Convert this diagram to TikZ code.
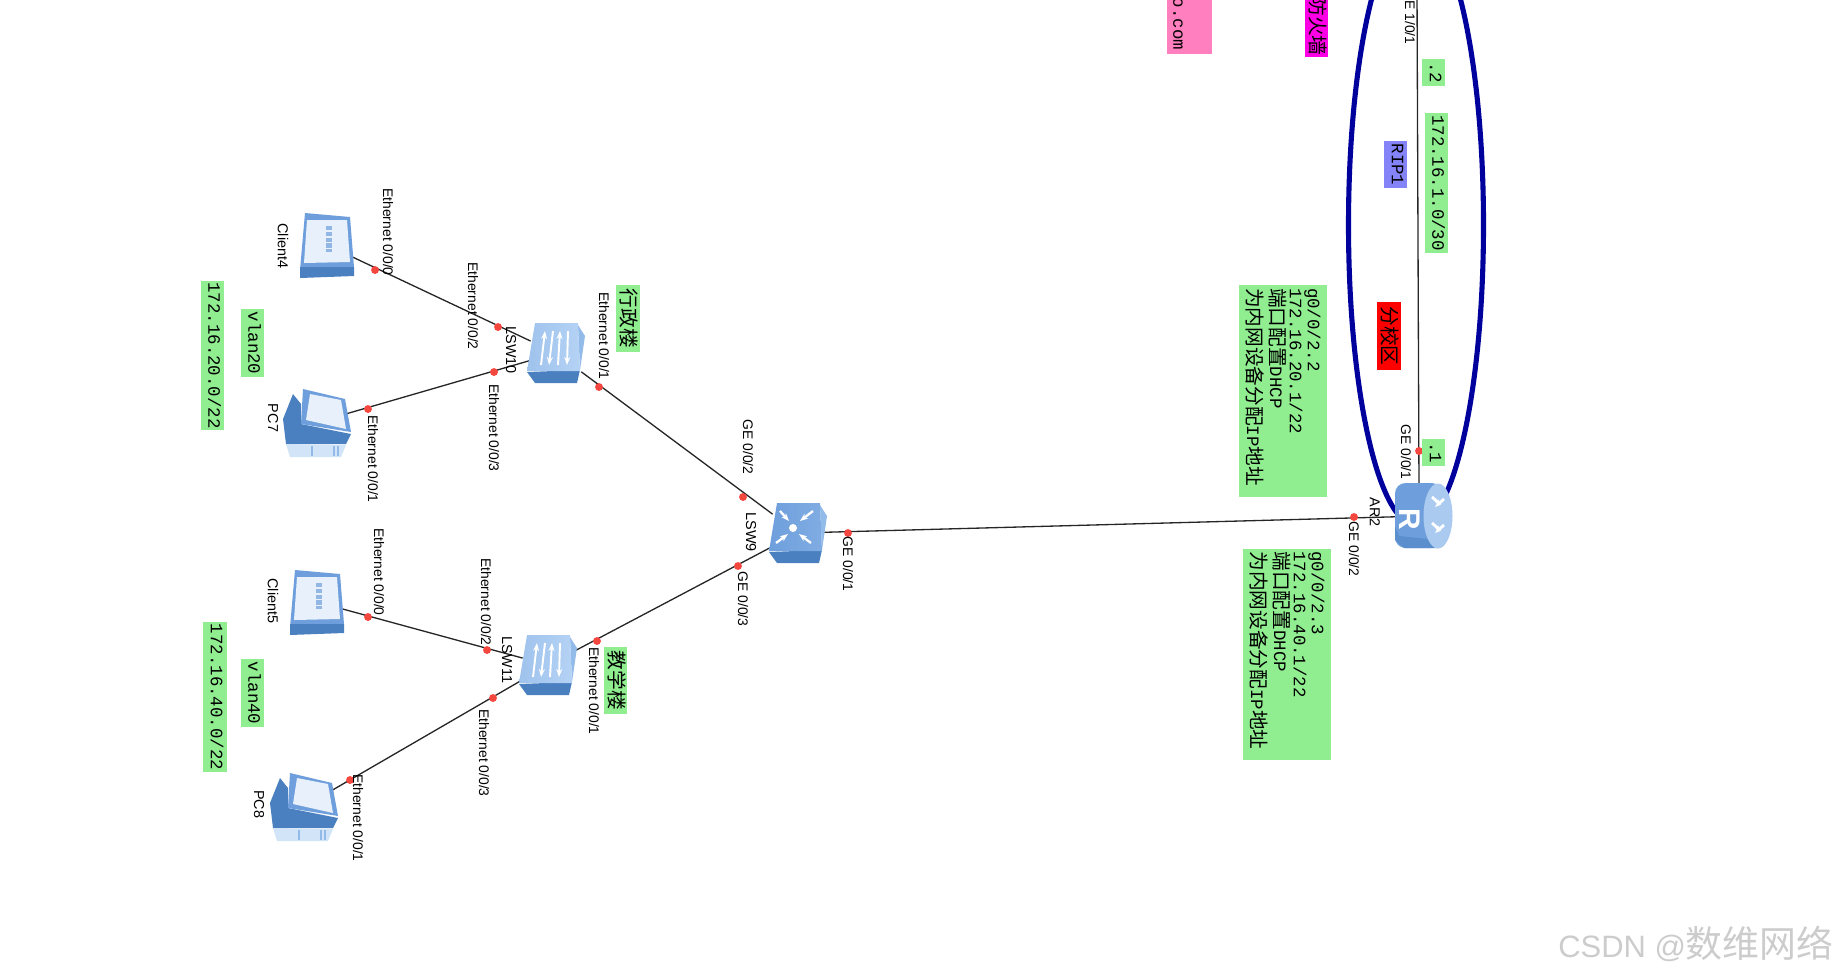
\documentclass[tikz,border=0pt]{standalone}
\usepackage{fontspec}
\setmainfont{Liberation Sans}
\newfontfamily\monofont{Liberation Mono}
\newfontfamily\cjkfont{Noto Sans CJK SC}
\usetikzlibrary{arrows.meta}
\definecolor{hblue}{HTML}{6E9FDC}
\definecolor{hdark}{HTML}{4A80C0}
\definecolor{hpale}{HTML}{B4D2F4}
\definecolor{hside}{HTML}{93BBEA}
\definecolor{hscreen}{HTML}{E8F1FB}
\definecolor{tagok}{HTML}{90EE90}
\definecolor{tagrip}{HTML}{8484F8}
\definecolor{tagpink}{HTML}{FF7FBF}
\definecolor{tagfw}{HTML}{FF00E6}
\definecolor{ringblue}{HTML}{00009C}
\definecolor{portred}{HTML}{F4473F}
\newcommand{\cjkbig}{\cjkfont\fontsize{11.2}{11.3}\selectfont}
\tikzset{
  devbox/.style={minimum width=1cm, minimum height=1cm, inner sep=0pt},
  link/.style={draw=black!85, line width=0.75pt},
  pdot/.style={circle, fill=portred, draw=none, minimum size=4.5pt, inner sep=0pt},
  portlab/.style={rotate=-90, inner sep=0pt, font=\fontsize{7.9}{9}\selectfont},
  devlab/.style={rotate=-90, inner sep=0pt, font=\fontsize{8.2}{9}\selectfont},
  tag/.style={rotate=-90, fill=#1, inner sep=0pt, text depth=2.5pt,
    font=\monofont\fontsize{9.9}{11.3}\selectfont},
  tag/.default=tagok,
  cjktag/.style={tag=#1, font=\cjkbig},
  cjktag/.default=tagok,
  notebox/.style={tag, text depth=, align=left, text width=4.12cm, inner xsep=0.06cm,
    minimum width=4.24cm, minimum height=1.76cm},
  switchbody/.pic={
    \fill[hdark] (-29,19) -- (24,17) -- (21,30) -- (-21,30) -- cycle;
    \fill[hside] (22,-28) -- (29,-17) -- (24,17) -- cycle;
  },
  l2switch/.pic={
    \pic {switchbody};
    \shade[left color=hpale!70!hblue, right color=hpale] (-29,18) -- (-21,-30) -- (22,-30) -- (24,18) -- cycle;
    \draw[white, line width=1.1pt, -{Stealth[length=1.6mm]}] (-15,12) -- (-11,-22);
    \draw[white, line width=1.1pt, {Stealth[length=1.6mm]}-] (-7,12) -- (-3,-22);
    \draw[white, line width=1.1pt, -{Stealth[length=1.6mm]}] (2,12) -- (4,-22);
    \draw[white, line width=1.1pt, {Stealth[length=1.6mm]}-] (11,12) -- (12,-22);
  },
  l3switch/.pic={
    \pic {switchbody};
    \shade[left color=hblue, right color=hblue!75!hpale] (-29,18) -- (-21,-30) -- (22,-30) -- (24,18) -- cycle;
    \fill[white] (-5,-5) circle (4);
    \draw[white, line width=1.3pt, -{Stealth[length=1.6mm]}] (-18,-22) -- (-9,-12);
    \draw[white, line width=1.3pt, -{Stealth[length=1.6mm]}] (15,-22) -- (2,-12);
    \draw[white, line width=1.3pt, -{Stealth[length=1.6mm]}] (-22,10) -- (-10,1);
    \draw[white, line width=1.3pt, -{Stealth[length=1.6mm]}] (13,10) -- (1,1);
  },
  clienticon/.pic={
    \fill[hblue] (-22,-32) -- (23,-28) -- (27,22) -- (-27,25) -- cycle;
    \fill[hdark] (-27,22) -- (27,22) -- (27,31) -- (-27,33) -- cycle;
    \fill[hscreen] (-20,-25) -- (20,-25) -- (23,17) -- (-23,18) -- cycle;
    \draw[hblue!75, line width=3.5pt, dash pattern=on 2.5pt off 0.8pt] (2,-19) -- (2,7);
  },
  pcicon/.pic={
    \fill[hdark] (-35,-3) -- (-25,-28) -- (-17,-18) -- (-17,2) -- (33,12) -- (28,22) -- (-32,22) -- cycle;
    \fill[hpale!60!white] (-32,22) -- (28,23) -- (23,35) -- (-28,35) -- cycle;
    \fill[hblue] (-15,-33) -- (27,-23) -- (33,10) -- (-17,2) -- cycle;
    \fill[hscreen] (-8,-28) -- (23,-22) -- (28,7) -- (-12,-2) -- cycle;
    \draw[hside, line width=0.7pt] (-6,24) -- (-6,34) (16,24) -- (16,34) (20,24) -- (20,34);
  },
  routericon/.pic={
    \fill[hblue, rounded corners=6pt] (18,-33) -- (-29,-33) -- (-29,32) -- (18,32) -- cycle;
    \fill[hdark!55!hblue] (-25,20) -- (-29,10) -- (-29,24) -- (-20,32) -- (14,32) -- (14,24) -- cycle;
    \fill[hpale!85!hblue] (14,0) ellipse [x radius=14.5, y radius=32.5];
    \node[rotate=-90, text=white, inner sep=0pt, font=\fontsize{17}{17}\selectfont\bfseries] (rletter) at (-14,3) {R};
    \draw[white, line width=1.6pt, -{Stealth[length=1.2mm]}] (8,-19) -- (17,-11);
    \draw[white, line width=1.6pt, -{Stealth[length=1.2mm]}] (20,-17) -- (11,-9);
    \draw[white, line width=1.6pt, -{Stealth[length=1.2mm]}] (8,7) -- (17,15);
    \draw[white, line width=1.6pt, -{Stealth[length=1.2mm]}] (20,9) -- (11,17);
  }
}

\begin{document}
\begin{tikzpicture}[x=0.02cm,y=-0.02cm]
  \clip (0,0) rectangle (1837,975);

  % devices
  \node[devbox] (client4) at (327,245) {};
  \node[devbox] (pc7) at (318,422) {};
  \node[devbox] (lsw10) at (556,353) {};
  \node[devbox] (client5) at (317,602) {};
  \node[devbox] (pc8) at (305,806) {};
  \node[devbox] (lsw11) at (548,665) {};
  \node[devbox] (lsw9) at (798,533) {};
  \node[devbox] (ar2) at (1424,516) {};
  \coordinate (ar2up) at (1419,490);
  \coordinate (linkup) at (1417,-10);

  % links
  \draw[ringblue, line width=2.9pt] (1416,225) ellipse [x radius=67.5, y radius=300];
  \draw[link] (client4) -- (lsw10);
  \draw[link] (pc7) -- (lsw10);
  \draw[link] (client5) -- (lsw11);
  \draw[link] (pc8) -- (lsw11);
  \draw[link] (lsw10) -- (lsw9);
  \draw[link] (lsw11) -- (lsw9);
  \draw[link] (lsw9) -- (ar2);
  \draw[link] (ar2up) -- (linkup);

  \pic at (client4) {clienticon};
  \pic at (client5) {clienticon};
  \pic at (pc7) {pcicon};
  \pic at (pc8) {pcicon};
  \pic at (lsw10) {l2switch};
  \pic at (lsw11) {l2switch};
  \pic at (lsw9) {l3switch};
  \pic at (ar2) {routericon};

  % port dots
  \node[pdot] (d1) at (375,270) {};
  \node[pdot] (d2) at (498,327) {};
  \node[pdot] (d3) at (368,409) {};
  \node[pdot] (d4) at (494,372) {};
  \node[pdot] (d5) at (599,387) {};
  \node[pdot] (d6) at (743,497) {};
  \node[pdot] (d7) at (368,617) {};
  \node[pdot] (d8) at (487,650) {};
  \node[pdot] (d9) at (350,780) {};
  \node[pdot] (d10) at (493,698) {};
  \node[pdot] (d11) at (597,641) {};
  \node[pdot] (d12) at (738,566) {};
  \node[pdot] (d13) at (848,533) {};
  \node[pdot] (d14) at (1354,517) {};
  \node[pdot] (d15) at (1419,451) {};

  % port labels
  \node[portlab] (p1) at (388,232) {Ethernet 0/0/0};
  \node[portlab] (p2) at (473,306) {Ethernet 0/0/2};
  \node[portlab] (p3) at (373,459) {Ethernet 0/0/1};
  \node[portlab] (p4) at (494,428) {Ethernet 0/0/3};
  \node[portlab] (p5) at (604,336) {Ethernet 0/0/1};
  \node[portlab] (p6) at (379,572) {Ethernet 0/0/0};
  \node[portlab] (p7) at (486,602) {Ethernet 0/0/2};
  \node[portlab] (p8) at (358,818) {Ethernet 0/0/1};
  \node[portlab] (p9) at (484,753) {Ethernet 0/0/3};
  \node[portlab] (p10) at (594,691) {Ethernet 0/0/1};
  \node[portlab] (p11) at (748,447) {GE 0/0/2};
  \node[portlab] (p12) at (743,599) {GE 0/0/3};
  \node[portlab] (p13) at (848,564) {GE 0/0/1};
  \node[portlab] (p14) at (1354,549) {GE 0/0/2};
  \node[portlab] (p15) at (1406,452) {GE 0/0/1};
  \node[portlab] (p16) at (1410,17) {GE 1/0/1};

  % device labels
  \node[devlab] (l1) at (283,246) {Client4};
  \node[devlab] (l2) at (273,418) {PC7};
  \node[devlab] (l3) at (511,350) {LSW10};
  \node[devlab] (l4) at (273,601) {Client5};
  \node[devlab] (l5) at (259,804) {PC8};
  \node[devlab] (l6) at (507,660) {LSW11};
  \node[devlab] (l7) at (751,532) {LSW9};
  \node[devlab] (l8) at (1375,512) {AR2};

  % tags
  \node[cjktag, minimum width=1.34cm, minimum height=0.48cm] (t1) at (628,318.5) {行政楼};
  \node[cjktag, minimum width=1.34cm, minimum height=0.46cm] (t2) at (615.5,680.5) {教学楼};
  \node[tag, minimum width=2.98cm, minimum height=0.46cm] (t3) at (212.5,355.5) {172.16.20.0/22};
  \node[tag, minimum width=1.36cm, minimum height=0.46cm] (t4) at (252.5,343) {vlan20};
  \node[tag, minimum width=3cm, minimum height=0.48cm] (t5) at (215,697) {172.16.40.0/22};
  \node[tag, minimum width=1.36cm, minimum height=0.46cm] (t6) at (252.5,693) {vlan40};
  \node[tag, minimum width=0.54cm, minimum height=0.46cm] (t7) at (1433.5,72.5) {.2};
  \node[tag, minimum width=0.54cm, minimum height=0.46cm] (t8) at (1433.5,452.5) {.1};
  \node[tag, minimum width=2.8cm, minimum height=0.46cm] (t9) at (1436.5,183) {172.16.1.0/30};
  \node[tag=tagrip, minimum width=0.94cm, minimum height=0.46cm] (t10) at (1395.5,164.5) {RIP1};
  \node[cjktag=red, minimum width=1.36cm, minimum height=0.48cm] (t11) at (1389,336) {分校区};
  \node[cjktag=tagfw, minimum width=1.24cm, minimum height=0.46cm] (t12) at (1316.5,26) {防火墙};
  \node[tag=tagpink, minimum width=1.6cm, minimum height=0.9cm] (t13) at (1189.5,14) {};
  \node[rotate=-90, inner sep=0pt, font=\monofont\fontsize{9.9}{11.3}\selectfont] (t14) at (1178,24) {o.com};

  \node[notebox] (n1) at (1283,391)
    {g0/0/2.2\\[-1.1pt]172.16.20.1/22\\{\cjkbig 端口配置}DHCP\\[1.7pt]{\cjkbig 为内网设备分配}IP{\cjkbig 地址}};
  \node[notebox] (n2) at (1287,654.5)
    {g0/0/2.3\\[-1.1pt]172.16.40.1/22\\{\cjkbig 端口配置}DHCP\\[1.7pt]{\cjkbig 为内网设备分配}IP{\cjkbig 地址}};

  % watermark
  \node[anchor=west, inner sep=0pt, text=black!20, font=\fontsize{17.6}{20}\selectfont] (mark) at (1558,944)
    {CSDN @{\cjkfont\fontsize{21}{21}\selectfont 数维网络}};
\end{tikzpicture}
\end{document}
